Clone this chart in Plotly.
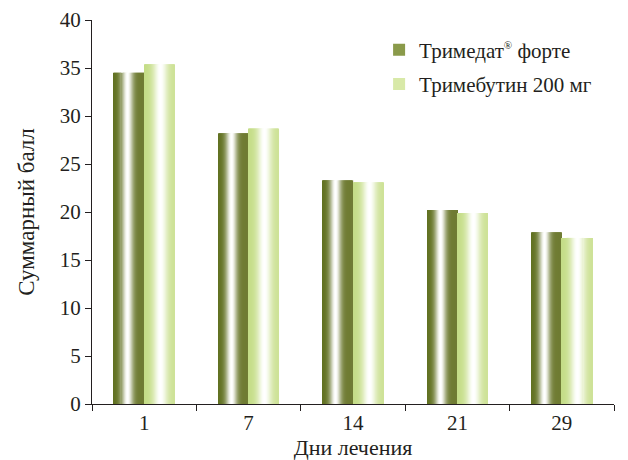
import plotly.graph_objects as go
import math

days = ["1", "7", "14", "21", "29"]
trimedat = [34.5, 28.2, 23.3, 20.2, 17.9]
trimebutin = [35.4, 28.7, 23.1, 19.9, 17.3]
y_ticks = [0, 5, 10, 15, 20, 25, 30, 35, 40]

series = [
    dict(name="Тримедат<sup><span style='font-size:11px'>®</span></sup> форте", values=trimedat,
         left=(96, 112, 32), right=(112, 124, 52), center=0.45, spread=0.19,
         legend="#8a9a4a", start=-0.29),
    dict(name="Тримебутин 200 мг", values=trimebutin,
         left=(196, 221, 134), right=(204, 225, 148), center=0.55, spread=0.24,
         legend="#d8e9a8", start=0.0),
]

BW = 0.29
N = 30
FONT = "Liberation Serif"

fig = go.Figure()

def mix(c1, c2, t):
    return tuple(round(a + (b - a) * t) for a, b in zip(c1, c2))

for s in series:
    for i in range(N):
        t = (i + 0.5) / N
        edge = mix(s["left"], s["right"], t)
        w = math.exp(-((t - s["center"]) / s["spread"]) ** 2)
        c = mix(edge, (255, 255, 255), w)
        fig.add_trace(go.Bar(
            x=days, y=s["values"],
            width=BW / N * 1.15, offset=s["start"] + i * BW / N,
            marker=dict(color="rgb(%d,%d,%d)" % c, line=dict(width=0)),
            showlegend=False, hoverinfo="skip", legendgroup=s["name"],
        ))
    fig.add_trace(go.Bar(
        x=[None], y=[None], name=s["name"], legendgroup=s["name"],
        marker=dict(color=s["legend"], line=dict(width=0)), showlegend=True,
    ))

fig.update_layout(
    width=628, height=460,
    margin=dict(l=92, r=14, t=20, b=56),
    paper_bgcolor="white", plot_bgcolor="white",
    barmode="overlay",
    font=dict(family=FONT, size=21, color="#231f20"),
    showlegend=True,
    legend=dict(x=0.55, y=0.975, xanchor="left", yanchor="top",
                font=dict(family=FONT, size=21), tracegroupgap=4,
                bgcolor="rgba(0,0,0,0)"),
    xaxis=dict(
        type="category", showline=True, linecolor="#231f20", linewidth=1.2,
        ticks="outside", tickson="boundaries", ticklen=6, tickcolor="#231f20",
        showgrid=False, automargin=False,
        title=dict(text="Дни лечения", standoff=4,
                   font=dict(family=FONT, size=22)),
        tickfont=dict(family=FONT, size=21),
    ),
    yaxis=dict(
        range=[0, 40], tickvals=y_ticks, showline=True, linecolor="#231f20",
        linewidth=1.2, ticks="outside", ticklen=6, tickcolor="#231f20",
        showgrid=False, zeroline=False, automargin=False,
        title=dict(text="Суммарный балл", standoff=18,
                   font=dict(family=FONT, size=23)),
        tickfont=dict(family=FONT, size=21),
    ),
)

fig.write_html("out.html", config={"displayModeBar": False},
               post_script="document.body.style.margin='0';")
